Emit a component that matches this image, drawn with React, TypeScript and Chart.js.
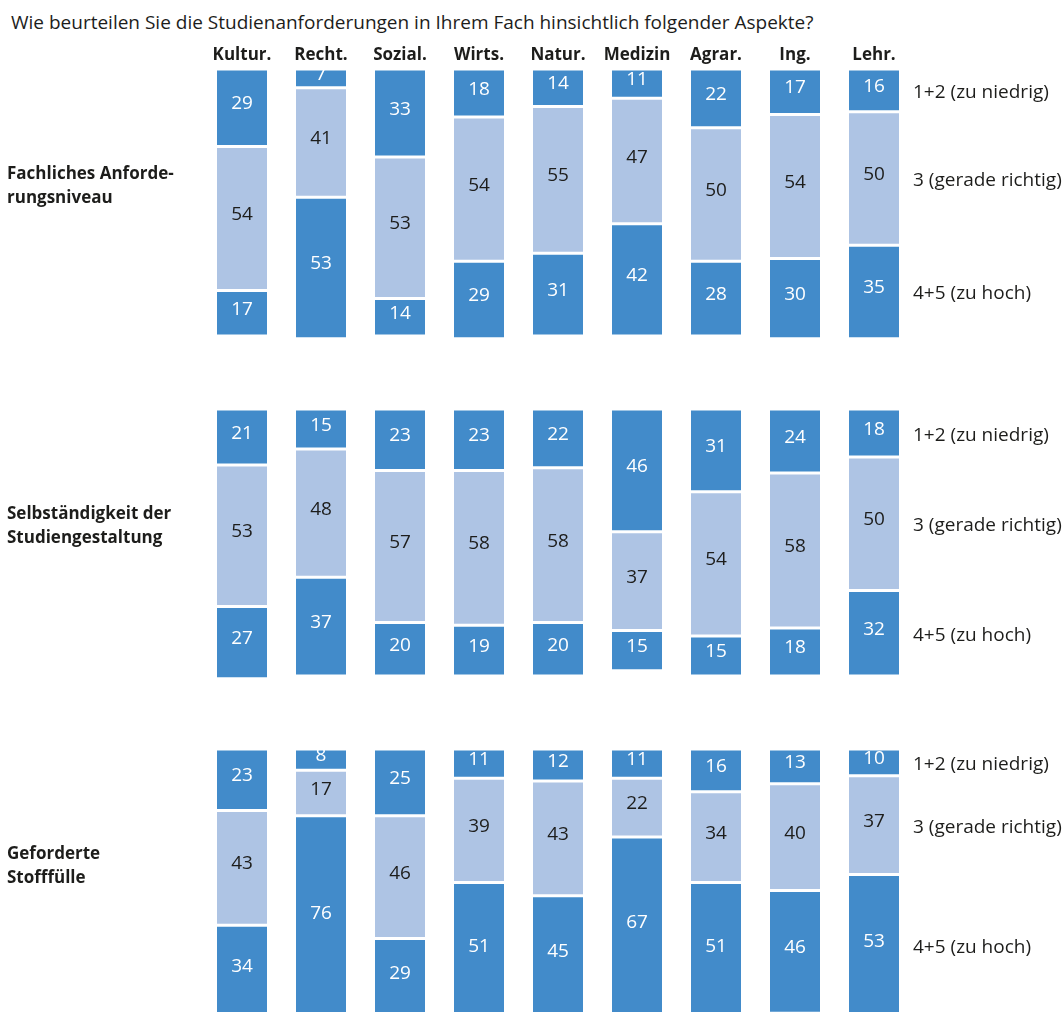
import React, { useEffect, useRef } from "react";
import { Chart, registerables } from "chart.js";

Chart.register(...registerables);

const FONT = "'Open Sans', 'Noto Sans', sans-serif";
const DARK = "#428bca";
const LIGHT = "#aec4e4";
const INK = "#1d1d1b";

const title = "Wie beurteilen Sie die Studienanforderungen in Ihrem Fach hinsichtlich folgender Aspekte?";
const categories = ["Kultur.", "Recht.", "Sozial.", "Wirts.", "Natur.", "Medizin", "Agrar.", "Ing.", "Lehr."];
const seriesLabels = ["1+2 (zu niedrig)", "3 (gerade richtig)", "4+5 (zu hoch)"];

const niveauLabel = ["Fachliches Anforde-", "rungsniveau"];
const niveauLow = [29, 7, 33, 18, 14, 11, 22, 17, 16];
const niveauMid = [54, 41, 53, 54, 55, 47, 50, 54, 50];
const niveauHigh = [17, 53, 14, 29, 31, 42, 28, 30, 35];

const selbstLabel = ["Selbständigkeit der", "Studiengestaltung"];
const selbstLow = [21, 15, 23, 23, 22, 46, 31, 24, 18];
const selbstMid = [53, 48, 57, 58, 58, 37, 54, 58, 50];
const selbstHigh = [27, 37, 20, 19, 20, 15, 15, 18, 32];

const stoffLabel = ["Geforderte", "Stofffülle"];
const stoffLow = [23, 8, 25, 11, 12, 11, 16, 13, 10];
const stoffMid = [43, 17, 46, 39, 43, 22, 34, 40, 37];
const stoffHigh = [34, 76, 29, 51, 45, 67, 51, 46, 53];

// layout of each row panel
const PX_PER_POINT = 2.67;
const PLOT_HEIGHT = 280;
const HEADER = 40;
const CANVAS_W = 1064;
const PAD_LEFT = 202.5;
const PAD_RIGHT = 150.5;

const segmentLabels = {
  id: "segmentLabels",
  afterDatasetsDraw(chart: any, _args: any, opts: any) {
    const { ctx, chartArea } = chart;
    ctx.save();
    chart.data.datasets.forEach((ds: any, di: number) => {
      const meta = chart.getDatasetMeta(di);
      meta.data.forEach((bar: any, i: number) => {
        const { x, y, base } = bar.getProps(["x", "y", "base"], true);
        const mid = (y + base) / 2;
        ctx.font = `19px ${FONT}`;
        ctx.fillStyle = di === 1 ? INK : "#ffffff";
        ctx.textAlign = "center";
        ctx.textBaseline = "alphabetic";
        ctx.fillText(String(ds.data[i]), x, mid + 1.5);
      });
      // series name beside the last bar of the row
      const last = meta.data[meta.data.length - 1];
      const p = last.getProps(["x", "y", "base", "width"], true);
      ctx.font = `19px ${FONT}`;
      ctx.fillStyle = INK;
      ctx.textAlign = "left";
      ctx.textBaseline = "alphabetic";
      ctx.fillText(ds.label, p.x + p.width / 2 + 14, (p.y + p.base) / 2 + 7.5);
    });
    if (opts.showCategories) {
      const xs = chart.scales.x;
      ctx.font = `bold 17px ${FONT}`;
      ctx.fillStyle = INK;
      ctx.textAlign = "center";
      ctx.textBaseline = "alphabetic";
      chart.data.labels.forEach((lab: string, i: number) => {
        ctx.fillText(lab, xs.getPixelForValue(i), chartArea.top - 9);
      });
    }
    ctx.restore();
  },
};

type RowProps = {
  top: number;
  low: number[];
  mid: number[];
  high: number[];
  label: string[];
  showCategories: boolean;
};

function RatingRow({ top, low, mid, high, label, showCategories }: RowProps) {
  const ref = useRef<HTMLCanvasElement>(null);
  useEffect(() => {
    if (!ref.current) return;
    const chart = new Chart(ref.current, {
      type: "bar",
      data: {
        labels: categories,
        datasets: [
          { label: seriesLabels[0], data: low, backgroundColor: DARK },
          { label: seriesLabels[1], data: mid, backgroundColor: LIGHT },
          { label: seriesLabels[2], data: high, backgroundColor: DARK },
        ],
      },
      options: {
        responsive: false,
        animation: false,
        events: [],
        layout: { padding: { top: HEADER, left: PAD_LEFT, right: PAD_RIGHT, bottom: 0 } },
        datasets: {
          bar: {
            barThickness: 50,
            borderWidth: { top: 1.5, bottom: 1.5, left: 0, right: 0 },
            borderColor: "#ffffff",
            borderSkipped: false,
            inflateAmount: 0,
          },
        },
        plugins: {
          legend: { display: false },
          tooltip: { enabled: false },
          segmentLabels: { showCategories },
        },
        scales: {
          x: { stacked: true, display: false },
          y: { stacked: true, display: false, reverse: true, min: 0, max: PLOT_HEIGHT / PX_PER_POINT },
        },
      } as any,
      plugins: [segmentLabels as any],
    });
    return () => chart.destroy();
  }, []);
  return (
    <>
      <canvas
        ref={ref}
        width={CANVAS_W}
        height={HEADER + PLOT_HEIGHT}
        style={{ position: "absolute", left: 0, top: top - HEADER, width: CANVAS_W, height: HEADER + PLOT_HEIGHT }}
      />
      <div
        style={{
          position: "absolute",
          left: 7,
          top: top + 92,
          font: `bold 17px ${FONT}`,
          lineHeight: "24px",
          color: INK,
          whiteSpace: "nowrap",
        }}
      >
        {label[0]}
        <br />
        {label[1]}
      </div>
    </>
  );
}

export default function App() {
  return (
    <div
      style={{
        position: "fixed",
        left: 0,
        top: 0,
        width: 1064,
        height: 1012,
        overflow: "hidden",
        background: "#ffffff",
      }}
    >
      <div
        style={{
          position: "absolute",
          left: 11,
          top: 10,
          font: `19px ${FONT}`,
          lineHeight: "24px",
          color: INK,
          whiteSpace: "nowrap",
        }}
      >
        {title}
      </div>
      <RatingRow top={69} low={niveauLow} mid={niveauMid} high={niveauHigh} label={niveauLabel} showCategories={true} />
      <RatingRow top={409} low={selbstLow} mid={selbstMid} high={selbstHigh} label={selbstLabel} showCategories={false} />
      <RatingRow top={749} low={stoffLow} mid={stoffMid} high={stoffHigh} label={stoffLabel} showCategories={false} />
    </div>
  );
}
